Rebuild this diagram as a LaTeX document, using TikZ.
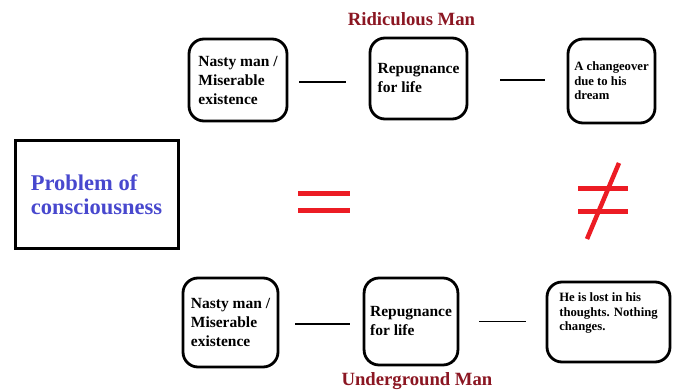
\documentclass[tikz,border=0pt]{standalone}
\usepackage{fontspec}
\setmainfont{Liberation Serif}
\usepackage{xcolor}
\definecolor{titlered}{RGB}{139,22,34}
\definecolor{probblue}{RGB}{72,72,206}
\definecolor{signred}{RGB}{236,28,36}
\usetikzlibrary{positioning,calc}

\begin{document}
\begin{tikzpicture}[
    x=1pt, y=-1pt,
    stage/.style={draw, line width=2.8pt, rounded corners=15pt, align=left, inner xsep=6pt,
        font=\fontsize{15.5}{19}\selectfont\bfseries},
    small/.style={font=\fontsize{12.7}{14.5}\selectfont\bfseries},
    title/.style={text=titlered, anchor=base, font=\fontsize{18.7}{22}\selectfont\bfseries},
    link/.style={line width=1.3pt},
    sign/.style={signred, line width=5pt}
]
    \useasboundingbox (0,0) rectangle (675,390);

    % Ridiculous Man
    \node[title] (ridic) at (411.5,26) {Ridiculous Man};
    \node[stage, minimum width=98pt, minimum height=82pt] (rnasty) at (238,80) {Nasty man /\\Miserable\\existence};
    \node[stage, minimum width=97pt, minimum height=81pt] (rrepug) at (418.5,78.5) {Repugnance\\for life};
    \node[stage, small, minimum width=87pt, minimum height=84pt] (rchange) at (611.5,81) {A changeover\\due to his\\dream};
    \draw[link, shorten <=11pt, shorten >=23pt] ([yshift=-2pt]rnasty.east) -- ([yshift=-2pt]rnasty.east -| rrepug.west);
    \draw[link, shorten <=32pt, shorten >=22pt] ([yshift=-1.5pt]rrepug.east) -- ([yshift=-1.5pt]rrepug.east -| rchange.west);

    % problem and signs
    \node[draw, line width=3pt, minimum width=163pt, minimum height=108pt, align=left, text=probblue,
        font=\fontsize{22.5}{24}\selectfont\bfseries] (problem) at (96.5,195) {Problem of\\consciousness};
    \draw[sign] (298,194) -- (350,194);
    \draw[sign] (298,211) -- (350,211);
    \draw[sign] (578,189) -- (628,189);
    \draw[sign] (578,212) -- (628,212);
    \draw[sign, line width=4.5pt] (619,163) -- (587,239);

    % Underground Man
    \node[stage, minimum width=95pt, minimum height=89pt] (unasty) at (230.5,322.5) {Nasty man /\\Miserable\\existence};
    \node[stage, minimum width=92pt, minimum height=87pt] (urepug) at (411,321.5) {Repugnance\\for life};
    \node[stage, small, minimum width=123pt, minimum height=80pt] (ulost) at (608.5,322) {He is lost in his\\thoughts. Nothing\\changes.\\[6pt]};
    \draw[link, shorten <=16pt, shorten >=13pt] ([yshift=-1.5pt]unasty.east) -- ([yshift=-1.5pt]unasty.east -| urepug.west);
    \draw[link, shorten <=20pt, shorten >=20pt] (urepug.east) -- (urepug.east -| ulost.west);
    \node[title] (under) at (417,385.5) {Underground Man};
\end{tikzpicture}
\end{document}
